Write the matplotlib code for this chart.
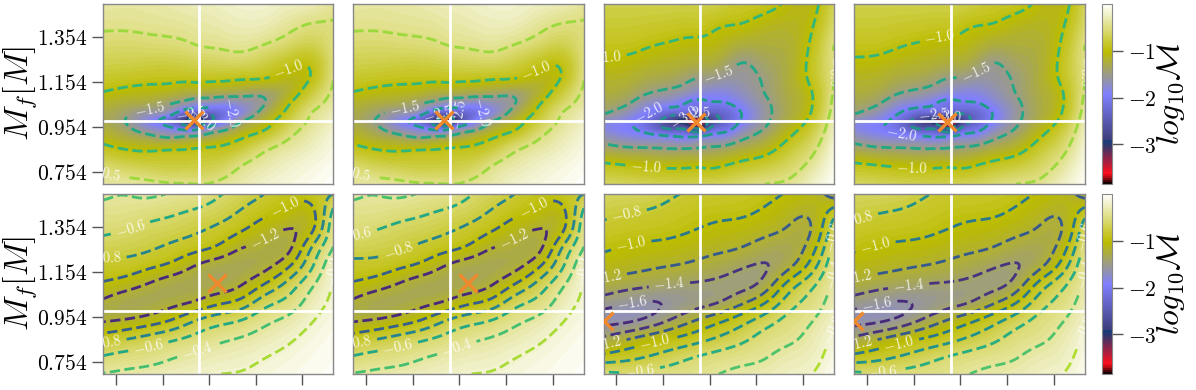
import numpy as np
import matplotlib
matplotlib.use("Agg")
import matplotlib.pyplot as plt

plt.rcParams['mathtext.fontset'] = 'cm'
plt.rcParams['font.family'] = 'serif'

# grid nodes (x as fraction of the panel width)
x_top = [0, .1, .2, .3, .36, .41, .46, .52, .6, .7, .8, .9, 1.0]
y_top = [.70, .78, .86, .92, .96, .985, 1.01, 1.05, 1.10, 1.16, 1.24, 1.32, 1.40, 1.50]
x_bot = [0, .1, .2, .3, .4, .5, .6, .7, .8, .9, 1.0]
y_bot = [.70, .78, .86, .94, 1.02, 1.10, 1.18, 1.26, 1.34, 1.42, 1.50]

# log10 mismatch, one row per x node, y going upwards
mm_top_left = [
    [-.38, -.6, -.93, -1.15, -1.27, -1.3, -1.29, -1.2, -1.03, -.88, -.72, -.59, -.47, -.36],
    [-.38, -.7, -1.03, -1.32, -1.48, -1.52, -1.45, -1.3, -1.1, -.92, -.73, -.6, -.47, -.38],
    [-.43, -.75, -1.07, -1.5, -1.82, -1.85, -1.68, -1.38, -1.14, -.95, -.75, -.58, -.45, -.36],
    [-.48, -.78, -1.05, -1.65, -2.13, -2.38, -1.95, -1.55, -1.22, -.96, -.75, -.56, -.43, -.33],
    [-.49, -.77, -1.03, -1.62, -2.5, -3.0, -2.5, -1.72, -1.3, -.97, -.73, -.53, -.41, -.3],
    [-.5, -.76, -1.0, -1.58, -2.55, -3.3, -2.6, -1.85, -1.32, -.96, -.7, -.49, -.38, -.28],
    [-.49, -.74, -.98, -1.45, -2.1, -2.75, -2.5, -1.85, -1.35, -.97, -.68, -.47, -.36, -.26],
    [-.42, -.68, -.95, -1.32, -1.8, -2.1, -2.2, -1.9, -1.38, -.98, -.66, -.45, -.33, -.24],
    [-.34, -.5, -.83, -1.1, -1.38, -1.58, -1.8, -1.75, -1.42, -1.02, -.65, -.42, -.3, -.2],
    [-.22, -.35, -.57, -.9, -1.1, -1.2, -1.33, -1.5, -1.45, -1.05, -.75, -.5, -.32, -.2],
    [-.14, -.24, -.4, -.58, -.72, -.8, -.9, -1.03, -1.2, -1.13, -.9, -.62, -.43, -.26],
    [-.08, -.15, -.27, -.36, -.43, -.47, -.5, -.63, -.8, -.98, -.95, -.72, -.53, -.3],
    [-.02, -.06, -.12, -.18, -.23, -.26, -.3, -.37, -.44, -.5, -.54, -.53, -.52, -.42],
]
mm_top_right = [
    [-.65, -.93, -1.38, -1.72, -1.83, -1.72, -1.5, -1.36, -1.25, -1.18, -1.04, -.92, -.82, -.72],
    [-.68, -.98, -1.47, -1.85, -1.95, -1.85, -1.72, -1.5, -1.33, -1.2, -1.06, -.92, -.82, -.72],
    [-.7, -1.03, -1.49, -1.97, -2.25, -2.2, -2.05, -1.8, -1.52, -1.32, -1.13, -.98, -.85, -.72],
    [-.72, -1.05, -1.52, -2.1, -2.75, -2.85, -2.4, -1.93, -1.62, -1.38, -1.18, -1.03, -.88, -.72],
    [-.72, -1.04, -1.52, -2.15, -2.9, -3.3, -2.45, -2.05, -1.72, -1.47, -1.22, -1.06, -.9, -.73],
    [-.72, -1.03, -1.5, -2.2, -3.45, -3.6, -2.6, -2.15, -1.82, -1.54, -1.25, -1.07, -.9, -.72],
    [-.7, -1.05, -1.47, -2.0, -2.7, -2.95, -2.55, -2.1, -1.85, -1.56, -1.25, -1.07, -.95, -.72],
    [-.68, -1.0, -1.43, -1.92, -2.28, -2.4, -2.35, -2.08, -1.85, -1.62, -1.35, -1.14, -1.0, -.78],
    [-.6, -.9, -1.3, -1.65, -1.88, -1.97, -2.0, -1.88, -1.72, -1.6, -1.5, -1.25, -1.03, -.85],
    [-.5, -.8, -1.15, -1.4, -1.53, -1.58, -1.6, -1.58, -1.5, -1.47, -1.38, -1.25, -1.12, -.9],
    [-.45, -.65, -.87, -1.07, -1.2, -1.27, -1.3, -1.3, -1.28, -1.25, -1.25, -1.22, -1.15, -1.05],
    [-.25, -.42, -.6, -.75, -.86, -.93, -.99, -1.03, -1.03, -.95, -.92, -.97, -1.03, -1.1],
    [-.04, -.1, -.18, -.25, -.3, -.33, -.37, -.41, -.46, -.5, -.49, -.5, -.6, -.68],
]
mm_bot_left = [
    [-.39, -.59, -.9, -1.24, -1.24, -1.02, -.87, -.7, -.56, -.46, -.37],
    [-.36, -.53, -.82, -1.2, -1.33, -1.1, -.88, -.72, -.6, -.47, -.4],
    [-.32, -.5, -.73, -1.12, -1.33, -1.22, -.96, -.77, -.66, -.52, -.36],
    [-.28, -.42, -.64, -1.0, -1.27, -1.32, -1.05, -.85, -.7, -.57, -.42],
    [-.24, -.36, -.55, -.8, -1.2, -1.33, -1.22, -.93, -.77, -.63, -.45],
    [-.2, -.3, -.45, -.68, -1.05, -1.33, -1.32, -1.03, -.85, -.7, -.58],
    [-.19, -.27, -.39, -.6, -.95, -1.23, -1.33, -1.21, -.98, -.82, -.68],
    [-.14, -.21, -.32, -.45, -.68, -1.0, -1.28, -1.26, -1.12, -.95, -.8],
    [-.1, -.15, -.24, -.36, -.55, -.75, -1.05, -1.3, -1.22, -1.04, -.93],
    [-.06, -.09, -.14, -.22, -.32, -.45, -.66, -.8, -1.1, -1.1, -.92],
    [-.03, -.05, -.07, -.11, -.16, -.18, -.22, -.4, -.45, -.55, -.8],
]
mm_bot_right = [
    [-.55, -.95, -1.37, -1.68, -1.5, -1.25, -1.1, -.97, -.86, -.75, -.65],
    [-.58, -.88, -1.23, -1.67, -1.58, -1.31, -1.13, -1.02, -.9, -.79, -.66],
    [-.53, -.8, -1.1, -1.57, -1.63, -1.35, -1.17, -1.05, -.92, -.82, -.68],
    [-.5, -.7, -1.0, -1.38, -1.58, -1.4, -1.2, -1.07, -.95, -.87, -.78],
    [-.46, -.6, -.9, -1.2, -1.5, -1.42, -1.24, -1.12, -1.0, -.92, -.83],
    [-.4, -.53, -.78, -1.05, -1.43, -1.45, -1.3, -1.16, -1.05, -.95, -.85],
    [-.35, -.47, -.66, -.88, -1.25, -1.47, -1.38, -1.2, -1.08, -.96, -.88],
    [-.32, -.42, -.52, -.7, -1.03, -1.35, -1.43, -1.3, -1.14, -1.03, -.93],
    [-.25, -.33, -.45, -.54, -.7, -.93, -1.28, -1.33, -1.22, -1.12, -1.02],
    [-.21, -.28, -.34, -.42, -.53, -.66, -.93, -1.12, -1.24, -1.18, -1.08],
    [-.06, -.11, -.17, -.24, -.3, -.36, -.42, -.52, -.65, -.9, -1.3],
]

# contour levels and where they sit on viridis
levels_top = [-3.0, -2.5, -2.0, -1.5, -1.0, -.5]
shades_top = [.48, .5, .55, .6, .66, .85]
levels_bl = [-1.2, -1.0, -.8, -.6, -.4, -.2]
shades_bl = [.12, .3, .45, .6, .7, .87]
levels_br = [-1.6, -1.4, -1.2, -1.0, -.8, -.6, -.4, -.2]
shades_br = [.12, .15, .28, .4, .5, .62, .72, .88]

# injected value (white lines) and best fit (orange cross)
inj_x, inj_y = .418, .982
best_top_left = (.395, .985)
best_top_right = (.40, .977)
best_bot_left = (.496, 1.106)
best_bot_right = (.0, .937)

yticks = [.754, .954, 1.154, 1.354]
xticks = [.056, .258, .46, .662, .864]
fill_levels = np.linspace(-3.85, 0, 90)

# where the inline contour labels go, one list per panel
labels_top = [
    [(.804, 1.215), (.203, 1.045), (.565, 1.02), (.38, 1.02), (.435, 1.0), (.012, .76)],
    [(.79, 1.21), (.221, 1.052), (.58, 1.03), (.37, 1.007), (.449, 1.0), (.014, .755)],
    [(.012, 1.255), (.495, 1.2), (.207, 1.0), (.35, 1.0), (.40, 1.015), (.185, .783), (.987, 1.2)],
    [(.371, 1.355), (.521, 1.215), (.207, .92), (.343, 1.008), (.40, 1.015), (.25, .773), (.986, 1.2)],
]
labels_bot = [
    [(.116, 1.355), (.797, 1.43), (.71, 1.288), (.012, 1.214), (.012, .844), (.196, .821), (.406, .807), (.99, 1.162)],
    [(.014, 1.333), (.192, 1.261), (.789, 1.43), (.702, 1.288), (.014, .844), (.192, .825), (.449, .815), (.994, 1.155)],
    [(.098, 1.421), (.12, 1.273), (.012, 1.136), (.286, 1.096), (.127, 1.002), (.012, .836), (.22, .844),
     (.156, .72), (.987, 1.31), (.987, 1.14), (.987, .925)],
    [(.012, 1.406), (.09, 1.273), (.012, 1.136), (.236, 1.088), (.1, 1.003), (.012, .84), (.193, .836),
     (.12, .71), (.986, 1.31), (.986, 1.14), (.986, .925)],
]

W, H = 1196, 390


def px_axes(fig, x0, x1, y0, y1):
    return fig.add_axes([x0 / W, 1 - y1 / H, (x1 - x0) / W, (y1 - y0) / H])


# natural cubic spline along the first axis, keeps the contours smooth
def spline_rows(nodes, z, fine):
    nodes = np.asarray(nodes, float)
    h = np.diff(nodes)
    n = len(nodes)
    A = np.zeros((n, n))
    rhs = np.zeros_like(z)
    A[0, 0] = A[-1, -1] = 1
    for i in range(1, n - 1):
        A[i, i - 1:i + 2] = h[i - 1], 2 * (h[i - 1] + h[i]), h[i]
        rhs[i] = 6 * ((z[i + 1] - z[i]) / h[i] - (z[i] - z[i - 1]) / h[i - 1])
    m = np.linalg.solve(A, rhs)
    k = np.clip(np.searchsorted(nodes, fine) - 1, 0, n - 2)
    a = ((nodes[k + 1] - fine) / h[k])[:, None]
    b = 1 - a
    hk = h[k][:, None]
    return a * z[k] + b * z[k + 1] + ((a ** 3 - a) * m[k] + (b ** 3 - b) * m[k + 1]) * hk ** 2 / 6


# small gaussian blur to take out the kinks left by the hand read nodes
def blur(z, sigma):
    r = int(3 * sigma)
    g = np.exp(-.5 * (np.arange(-r, r + 1) / sigma) ** 2)
    g /= g.sum()
    p = np.pad(z, r, mode='reflect', reflect_type='odd')
    p = np.apply_along_axis(np.convolve, 0, p, g, mode='same')
    p = np.apply_along_axis(np.convolve, 1, p, g, mode='same')
    return p[r:-r, r:-r]


def draw_panel(ax, xs, ys, mm, levels, shades, best, label_pos, sigma):
    xf = np.linspace(0, 1, 300)
    yf = np.linspace(.70, 1.50, 300)
    z = spline_rows(xs, np.array(mm, float), xf)
    z = spline_rows(ys, z.T, yf)
    z = np.clip(blur(z, sigma), -3.85, 0)
    cf = ax.contourf(xf, yf, z, levels=fill_levels, cmap='gist_stern')
    colors = [plt.cm.viridis(s) for s in shades]
    cs = ax.contour(xf, yf, z, levels=levels, colors=colors, linewidths=2, linestyles='dashed')
    texts = ax.clabel(cs, manual=label_pos, fmt=lambda v: f'${v:.1f}$', fontsize=10.5, colors='white', inline=True)
    for t in texts:
        t.set_clip_on(True)
        t.set_clip_box(ax.bbox)
        t.set_alpha(.85)
    ax.axvline(inj_x, color='white', lw=2)
    ax.axhline(inj_y, color='white', lw=2)
    ax.plot(*best, 'x', color='#f0892c', ms=13, mew=2.4, zorder=5)
    ax.set_xlim(0, 1)
    ax.set_ylim(.70, 1.50)
    for s in ax.spines.values():
        s.set_color('#888888')
        s.set_linewidth(1)
    ax.tick_params(length=8, width=1, color='#555555')
    ax.set_xticks([])
    ax.set_yticks([])
    return cf


fig = plt.figure(figsize=(W / 100, H / 100), dpi=100)
columns = [(103.3, 333.3), (353.3, 584), (603.5, 834), (854.3, 1085)]
rows = [(4, 184), (194, 374)]
panels = [
    [(x_top, y_top, mm_top_left, levels_top, shades_top, best_top_left, labels_top[0], 3),
     (x_top, y_top, mm_top_left, levels_top, shades_top, best_top_left, labels_top[1], 3),
     (x_top, y_top, mm_top_right, levels_top, shades_top, best_top_right, labels_top[2], 3),
     (x_top, y_top, mm_top_right, levels_top, shades_top, best_top_right, labels_top[3], 3)],
    [(x_bot, y_bot, mm_bot_left, levels_bl, shades_bl, best_bot_left, labels_bot[0], 9),
     (x_bot, y_bot, mm_bot_left, levels_bl, shades_bl, best_bot_left, labels_bot[1], 9),
     (x_bot, y_bot, mm_bot_right, levels_br, shades_br, best_bot_right, labels_bot[2], 9),
     (x_bot, y_bot, mm_bot_right, levels_br, shades_br, best_bot_right, labels_bot[3], 9)],
]

for r, (y0, y1) in enumerate(rows):
    for c, (x0, x1) in enumerate(columns):
        ax = px_axes(fig, x0, x1, y0, y1)
        cf = draw_panel(ax, *panels[r][c])
        if c == 0:
            ax.set_yticks(yticks)
            ax.set_yticklabels([f'${v:.3f}$' for v in yticks], fontsize=15.5)
            ax.set_ylabel(r'$M_f[M]$', fontsize=24)
            ax.yaxis.set_label_coords((39 - x0) / (x1 - x0), .5)
        if r == 1:
            ax.set_xticks(xticks)
            ax.set_xticklabels([])

    cax = px_axes(fig, 1102.3, 1111.7, y0, y1)
    cb = fig.colorbar(cf, cax=cax, ticks=[-3, -2, -1])
    cb.ax.set_yticklabels(['$-3$', '$-2$', '$-1$'], fontsize=15.5)
    cb.ax.tick_params(length=8, width=1, color='#555555')
    cb.outline.set_edgecolor('#888888')
    cb.set_label(r'$log_{10}\mathcal{M}$', fontsize=23)
    cb.ax.yaxis.set_label_coords((1155 - 1102.3) / 9.4, .5)

fig.savefig('out.png', dpi=100)
